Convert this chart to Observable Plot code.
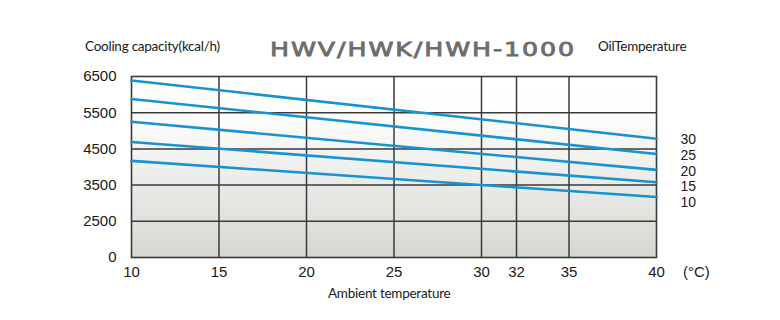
<!DOCTYPE html>
<html><head><meta charset="utf-8">
<script src="https://cdn.jsdelivr.net/npm/d3@7"></script>
<script src="https://cdn.jsdelivr.net/npm/@observablehq/plot@0.6"></script>
<style>
body{margin:0;background:#fff;}
#wrap{position:relative;width:780px;height:320px;overflow:hidden;}
#wrap svg{position:absolute;left:0;top:0;}
.t{position:absolute;white-space:nowrap;color:#1a1a1a;}
.lbl{font-family:Lato, "Open Sans", sans-serif;font-size:13.5px;letter-spacing:-0.25px;line-height:14px;}
.title{font-family:"DejaVu Sans", sans-serif;font-weight:normal;font-size:20px;line-height:20px;color:#707070;letter-spacing:1.5px;
  -webkit-text-stroke:0.8px #6a6a6a;transform-origin:0 0;transform:scaleX(1.265);}
.unit{font-family:"Liberation Sans", Arial, sans-serif;font-size:15px;line-height:16px;}
</style></head><body><div id="wrap"></div>
<script>
// Data
const ambientEnds = [10, 40];                    // ambient temperature (°C) at line ends
const oilTemps   = [30, 25, 20, 15, 10];          // oil temperature series
const capAt10    = [6390, 5880, 5250, 4690, 4170]; // kcal/h at 10 °C ambient
const capAt40    = [4780, 4360, 3920, 3580, 3170]; // kcal/h at 40 °C ambient
const labelY     = [4750, 4310, 3860, 3440, 3000]; // where the oil-temp labels sit
const xTicks     = [10, 15, 20, 25, 30, 32, 35, 40];
const yTicks     = [0, 2500, 3500, 4500, 5500, 6500];

const rows = oilTemps.flatMap((t, i) => [
  {oil: t, ambient: ambientEnds[0], cap: capAt10[i]},
  {oil: t, ambient: ambientEnds[1], cap: capAt40[i]}
]);

const W = 780, H = 320, mTop = 76, mBottom = 63, mLeft = 131, mRight = 124;
const yBottom = H - mBottom;
const yRange = yTicks.map((d, i) => yBottom - i * (yBottom - mTop) / (yTicks.length - 1));

const chart = Plot.plot({
  width: W, height: H,
  marginTop: mTop, marginBottom: mBottom, marginLeft: mLeft, marginRight: mRight,
  style: {fontFamily: "'Liberation Sans', Arial, sans-serif", fontSize: "15px", color: "#1a1a1a", background: "transparent"},
  x: {domain: [10, 40], ticks: xTicks, tickSize: 0, tickPadding: 9, label: null, tickFormat: d => String(d)},
  y: {type: "linear", domain: yTicks, range: yRange, ticks: yTicks, tickSize: 0, tickPadding: 15, label: null, tickFormat: d => String(d)},
  marks: [
    Plot.frame({fill: "url(#bggrad)", stroke: "none"}),
    Plot.ruleX(xTicks.slice(1, -1), {y1: 0, y2: 6500, stroke: "#3a3a3a", strokeWidth: 1.5}),
    Plot.ruleY(yTicks.slice(1, -1), {stroke: "#3a3a3a", strokeWidth: 1.5}),
    Plot.frame({stroke: "#3a3a3a", strokeWidth: 1.6}),
    Plot.line(rows, {x: "ambient", y: "cap", z: "oil", stroke: "#1693d3", strokeWidth: 2.6}),
    Plot.text(oilTemps, {x: () => 40, y: (d, i) => labelY[i], text: d => String(d), textAnchor: "start", dx: 24, fontSize: 14, lineHeight: 0.9, fill: "#1a1a1a"})
  ]
});

d3.select(chart).insert("defs", ":first-child").html(
  `<linearGradient id="bggrad" x1="0" y1="0" x2="0" y2="1">
     <stop offset="0" stop-color="#ffffff"/>
     <stop offset="0.2" stop-color="#fefefe"/>
     <stop offset="1" stop-color="#d6d6d2"/>
   </linearGradient>`);

const wrap = document.getElementById("wrap");
wrap.appendChild(chart);

function addText(cls, text, left, top) {
  const d = document.createElement("div");
  d.className = "t " + cls;
  d.textContent = text;
  d.style.left = left + "px";
  d.style.top = top + "px";
  wrap.appendChild(d);
}
addText("lbl", "Cooling capacity(kcal/h)", 85, 39);
addText("lbl", "OilTemperature", 598, 39);
addText("lbl", "Ambient temperature", 328, 286);
addText("unit", "(°C)", 683, 264);
addText("title", "HWV/HWK/HWH-1000", 270, 39);
</script></body></html>
